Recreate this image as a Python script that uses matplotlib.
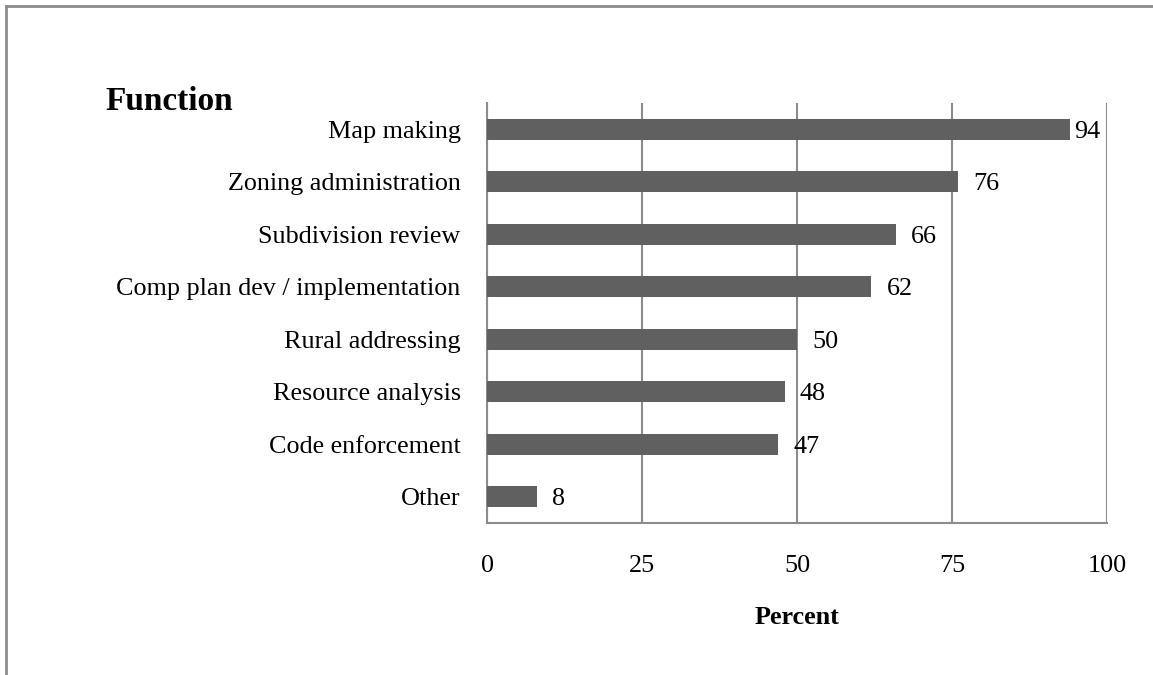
import matplotlib.pyplot as plt
from matplotlib.lines import Line2D

plt.rcParams['font.family'] = ['Liberation Serif', 'DejaVu Serif']

# Share of respondents using GIS for each function
functions = [
    'Map making',
    'Zoning administration',
    'Subdivision review',
    'Comp plan dev / implementation',
    'Rural addressing',
    'Resource analysis',
    'Code enforcement',
    'Other',
]
percent = [94, 76, 66, 62, 50, 48, 47, 8]
x_ticks = [0, 25, 50, 75, 100]

bar_color = '#606060'
grid_color = '#8c8c8c'
fs = 18.8

fig = plt.figure(figsize=(11.53, 6.75), dpi=100)
ax = fig.add_axes([0.4224, 0.2252, 0.5377, 0.6222])

y = list(range(len(functions)))
ax.barh(y, percent, height=0.4, color=bar_color, zorder=3)

# value labels just past the end of each bar
for yi, v in zip(y, percent):
    pad = 4 if v > 90 else 15
    ax.annotate(str(v), xy=(v, yi), xytext=(pad, 0), textcoords='offset pixels',
                ha='left', va='center_baseline', fontsize=fs, zorder=4)

ax.set_xlim(0, 100)
ax.set_ylim(len(functions) - 0.5, -0.5)
ax.set_yticks(y)
ax.set_yticklabels(functions, fontsize=fs, va='center_baseline')
ax.set_xticks(x_ticks)
ax.set_xticklabels([str(t) for t in x_ticks], fontsize=fs)
ax.tick_params(axis='both', length=0)
ax.tick_params(axis='x', pad=23)
ax.tick_params(axis='y', pad=19)

ax.grid(axis='x', color=grid_color, linewidth=1.5, zorder=0)
for side in ['top', 'right']:
    ax.spines[side].set_visible(False)
for side in ['left', 'bottom']:
    ax.spines[side].set_color(grid_color)
    ax.spines[side].set_linewidth(1.5)

ax.set_xlabel('Percent', fontsize=fs, fontweight='bold', labelpad=21)

fig.text(105 / 1153, 1 - 101 / 675, 'Function', fontsize=24, fontweight='bold',
         ha='left', va='center')

# frame lines along the top and left edges
fig.add_artist(Line2D([6 / 1153, 1], [1 - 6 / 675, 1 - 6 / 675],
                      color=grid_color, linewidth=2))
fig.add_artist(Line2D([6 / 1153, 6 / 1153], [0, 1 - 6 / 675],
                      color=grid_color, linewidth=2))

fig.savefig('out.png', dpi=100)
